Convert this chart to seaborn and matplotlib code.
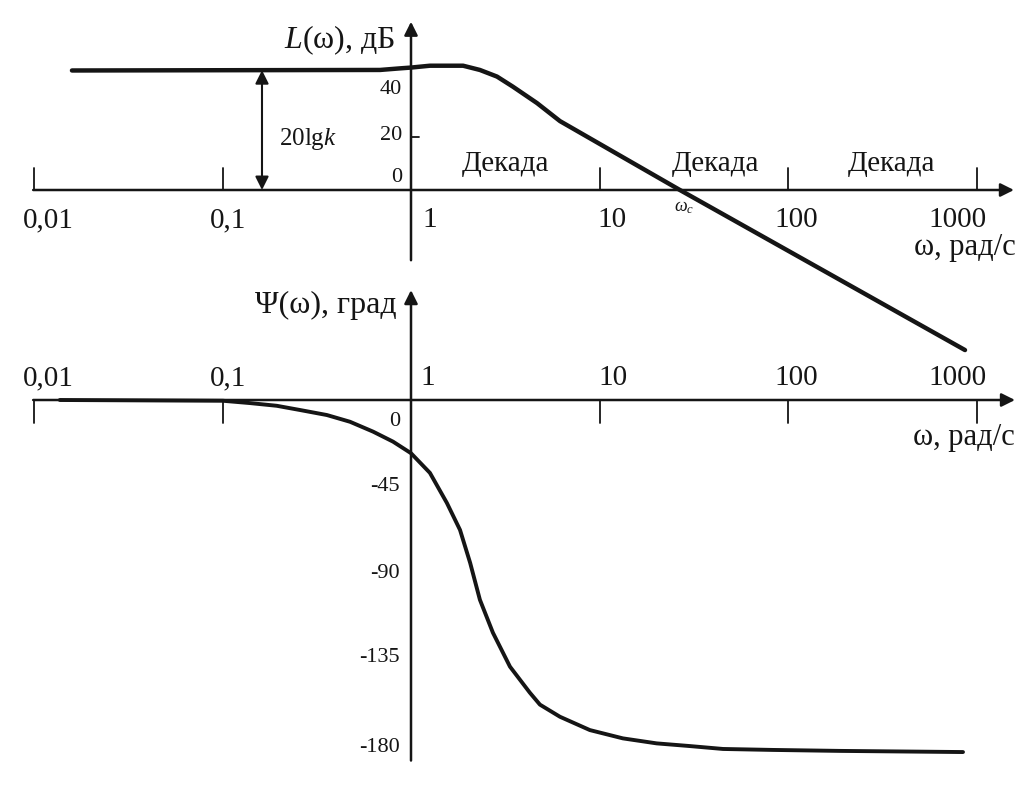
import numpy as np
import matplotlib
matplotlib.use('Agg')
import matplotlib.pyplot as plt
import seaborn as sns

# amplitude curve L(w), dB
mag_w = [0.0159, 0.1, 0.685, 0.874, 1.0, 1.26, 1.89, 2.32, 2.86, 3.47, 4.66, 6.17, 26.7, 869]
mag_db = [45.1, 45.2, 45.3, 45.9, 46.2, 46.9, 46.9, 45.3, 42.8, 39.0, 32.8, 26.0, 0.0, -60.4]

# phase curve Psi(w), deg
ph_w = [0.0137, 0.1006, 0.140, 0.194, 0.258, 0.358, 0.475, 0.629, 0.803, 1.0, 1.26, 1.55,
        1.82, 2.06, 2.32, 2.72, 3.35, 4.27, 4.83, 6.17, 8.89, 13.3, 20.1, 30.2, 45.2, 83.0,
        188, 848]
ph_deg = [0, -0.4, -1.6, -3.0, -5.2, -7.8, -11.3, -16.4, -21.6, -27.6, -37.8, -53.4,
          -67.4, -84.5, -103.6, -120.7, -138.3, -151.8, -158.0, -164.3, -171.2, -175.5,
          -178.1, -179.5, -181.0, -181.5, -182.0, -182.6]

x_ticks = [0.01, 0.1, 1, 10, 100, 1000]
x_labels = ['0,01', '0,1', '1', '10', '100', '1000']
mag_ticks = [0, 20, 40]
ph_ticks = [0, -45, -90, -135, -180]

sns.set_theme(style='white')
plt.rcParams['font.family'] = ['Liberation Serif', 'DejaVu Serif']
plt.rcParams['mathtext.fontset'] = 'custom'
plt.rcParams['mathtext.rm'] = 'Liberation Serif'
plt.rcParams['mathtext.it'] = 'Liberation Serif:italic'

INK = '#151515'

fig = plt.figure(figsize=(10.22, 7.87), dpi=100)
fig.patch.set_facecolor('white')
# both axes span the whole canvas, one decade = 188.5 px, w=1 at x=411 px
ax_m = fig.add_axes([0, 0, 1, 1])
ax_p = fig.add_axes([0, 0, 1, 1])
xlim = (10 ** (-411 / 188.5), 10 ** (611 / 188.5))
for ax in (ax_m, ax_p):
    ax.set_xscale('log')
    ax.set_xlim(*xlim)
    ax.set_facecolor('none')
    ax.axis('off')
ax_m.set_ylim((190 - 787) / 2.65, 190 / 2.65)     # 0 dB at y=190 px
ax_p.set_ylim(-(787 - 400) / 1.928, 400 / 1.928)  # 0 deg at y=400 px

arrow = dict(arrowstyle='-|>', lw=1.8, color=INK, mutation_scale=20, shrinkA=0, shrinkB=0)

# ---- amplitude part ----
ax_m.annotate('', xy=(1580, 0), xytext=(0.0099, 0), arrowprops=arrow)
ax_m.annotate('', xy=(1, 63.5), xytext=(1, -26.5), arrowprops=arrow)
dx = [14, 6, 19, 12, 8, -19]
for t, lab, d in zip(x_ticks, x_labels, dx):
    if t != 1:
        ax_m.plot([t, t], [0, 8.3], color=INK, lw=1.3)
    ax_m.annotate(lab, (t, 0), xytext=(d, -30), textcoords='offset pixels',
                  ha='center', va='center', fontsize=21, color=INK)
ax_m.plot([1, 1.1], [20, 20], color=INK, lw=1.3)
for t, d in zip(mag_ticks, [13, 2, -5]):
    ax_m.annotate(str(t), (1, t), xytext=(-9, d), textcoords='offset pixels',
                  ha='right', va='center', fontsize=16, color=INK)

sns.lineplot(x=mag_w, y=mag_db, ax=ax_m, color=INK, lw=3.2, sort=False)

ax_m.annotate('', xy=(0.162, 45.2), xytext=(0.162, 0),
              arrowprops=dict(arrowstyle='<|-|>', lw=1.5, color=INK, mutation_scale=20,
                              shrinkA=0, shrinkB=0))
ax_m.annotate('20lg$k$', (0.162, 20), xytext=(46, -2), textcoords='offset pixels',
              ha='center', va='center', fontsize=18, color=INK)
ax_m.annotate('$L$(ω), дБ', (1, 63.5), xytext=(-16, -18), textcoords='offset pixels',
              ha='right', va='center', fontsize=23, color=INK)
for w in [3.19, 41.0, 356.0]:
    ax_m.annotate('Декада', (w, 0), xytext=(0, 26), textcoords='offset pixels',
                  ha='center', va='center', fontsize=21, color=INK)
ax_m.annotate(r'$\omega_c$', (26.7, 0), xytext=(4, -18), textcoords='offset pixels',
              ha='center', va='center', fontsize=13, color=INK)
ax_m.annotate('ω, рад/с', (1580, 0), xytext=(2, -58), textcoords='offset pixels',
              ha='right', va='center', fontsize=22, color=INK)

# ---- phase part ----
ax_p.annotate('', xy=(1600, 0), xytext=(0.0099, 0), arrowprops=arrow)
ax_p.annotate('', xy=(1, 57), xytext=(1, -187), arrowprops=arrow)
dx = [14, 6, 17, 13, 8, -19]
for t, lab, d in zip(x_ticks, x_labels, dx):
    if t != 1:
        ax_p.plot([t, t], [0, -12], color=INK, lw=1.3)
    ax_p.annotate(lab, (t, 0), xytext=(d, 22), textcoords='offset pixels',
                  ha='center', va='center', fontsize=21, color=INK)
for t, d in zip(ph_ticks, [-22, 0, 0, 3, 0]):
    ax_p.annotate(str(t), (1, t), xytext=(-11, d), textcoords='offset pixels',
                  ha='right', va='center', fontsize=16, color=INK)

sns.lineplot(x=ph_w, y=ph_deg, ax=ax_p, color=INK, lw=2.8, sort=False)

ax_p.annotate('Ψ(ω), град', (1, 57), xytext=(-14, -15), textcoords='offset pixels',
              ha='right', va='center', fontsize=23, color=INK)
ax_p.annotate('ω, рад/с', (1600, 0), xytext=(0, -37), textcoords='offset pixels',
              ha='right', va='center', fontsize=22, color=INK)

fig.savefig('out.png', dpi=100, facecolor='white')
